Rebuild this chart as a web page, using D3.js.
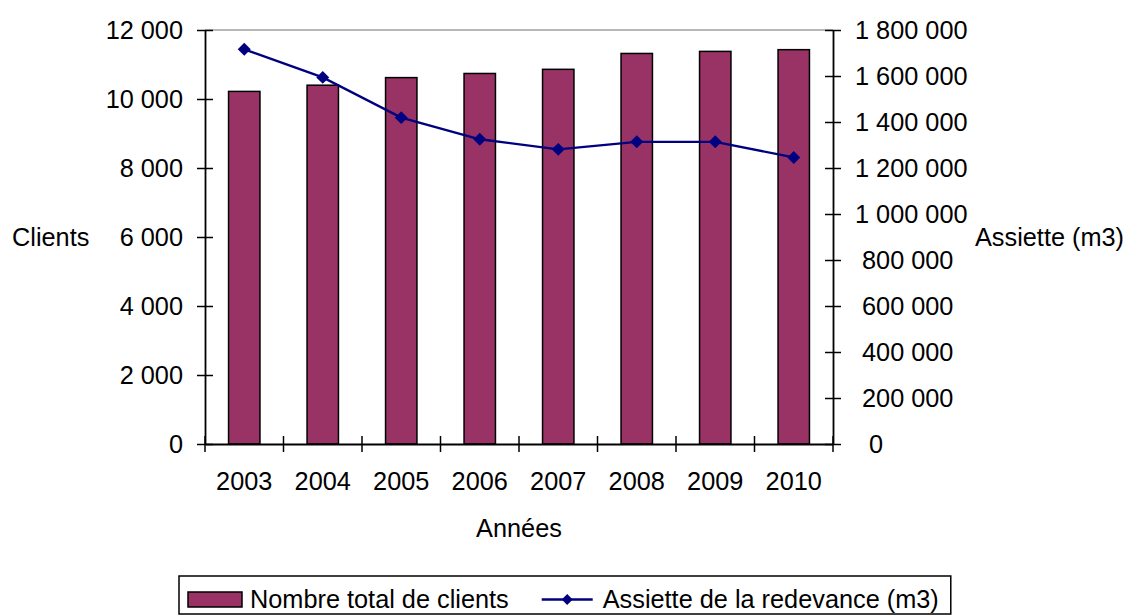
<!DOCTYPE html>
<html><head><meta charset="utf-8">
<script src="https://cdn.jsdelivr.net/npm/d3@7"></script>
<style>
html,body{margin:0;padding:0;background:#fff;}
svg{display:block;font-family:"Liberation Sans",Arial,sans-serif;}
</style></head>
<body><svg id="c" width="1135" height="616"></svg>
<script>
const years = ["2003","2004","2005","2006","2007","2008","2009","2010"];
const clients = [10220, 10400, 10620, 10740, 10860, 11320, 11380, 11430];
const assiette = [1716000, 1594000, 1419000, 1325000, 1281000, 1314000, 1314000, 1246000];
const leftTicks = [0, 2000, 4000, 6000, 8000, 10000, 12000];
const rightTicks = [0, 200000, 400000, 600000, 800000, 1000000, 1200000, 1400000, 1600000, 1800000];
const seriesNames = ["Nombre total de clients", "Assiette de la redevance (m3)"];
const axisTitles = {left: "Clients", right: "Assiette (m3)", bottom: "Années"};

const FS = 25.3;
const svg = d3.select("#c");
const m = {left: 205, right: 833, top: 30, bottom: 444};
const loc = d3.formatLocale({decimal: ",", thousands: " ", grouping: [3], currency: ["", ""]});
const fmt = loc.format(",d");

const x = d3.scaleBand().domain(years).range([m.left, m.right]).paddingInner(0).paddingOuter(0);
const yL = d3.scaleLinear().domain([0, 12000]).range([m.bottom, m.top]);
const yR = d3.scaleLinear().domain([0, 1800000]).range([m.bottom, m.top]);

// top plot border
svg.append("line").attr("x1", m.left).attr("x2", m.right).attr("y1", m.top).attr("y2", m.top)
  .attr("stroke", "#a0a0a0").attr("stroke-width", 1.5);

// bars
const bw = x.bandwidth() / 2.5;
svg.append("g").selectAll("rect").data(years).join("rect")
  .attr("x", (d) => x(d) + x.bandwidth() / 2 - bw / 2)
  .attr("y", (d, i) => yL(clients[i]))
  .attr("width", bw)
  .attr("height", (d, i) => yL(0) - yL(clients[i]))
  .attr("fill", "#993366").attr("stroke", "#000").attr("stroke-width", 1.5);

// left axis
const gL = svg.append("g").attr("transform", `translate(${m.left},0)`)
  .call(d3.axisLeft(yL).tickValues(leftTicks).tickFormat(fmt).tickSizeInner(8).tickSizeOuter(0).tickPadding(14));
gL.selectAll(".tick line").attr("x2", 8).attr("x1", -8);
// right axis
const gR = svg.append("g").attr("transform", `translate(${m.right},0)`)
  .call(d3.axisRight(yR).tickValues(rightTicks).tickFormat(fmt).tickSizeInner(8).tickSizeOuter(0));
gR.selectAll(".tick line").attr("x1", -8).attr("x2", 8);
gR.selectAll(".tick text").attr("x", (d) => d === 0 ? 36 : (d < 1000000 ? 29 : 22)).attr("text-anchor", "start");
// bottom axis
const gB = svg.append("g").attr("transform", `translate(0,${m.bottom})`)
  .call(d3.axisBottom(x).tickSize(0).tickSizeOuter(0).tickPadding(28));
const bounds = years.map((d) => x(d)).concat([m.right]);
gB.selectAll(".bt").data(bounds).join("line").attr("class", "bt")
  .attr("x1", (d) => d).attr("x2", (d) => d).attr("y1", -8).attr("y2", 8).attr("stroke", "#000").attr("stroke-width", 1.5);

[gL, gR, gB].forEach((g) => {
  g.selectAll(".domain").attr("stroke", "#000").attr("stroke-width", 1.8);
  g.selectAll(".tick line").attr("stroke", "#000").attr("stroke-width", 1.5);
  g.selectAll("text").attr("font-size", FS).attr("fill", "#000").attr("font-family", "Liberation Sans, Arial, sans-serif");
});
gB.selectAll(".tick text").attr("dy", "0.71em");

// line series
const line = d3.line().x((d, i) => x(years[i]) + x.bandwidth() / 2).y((d) => yR(d));
svg.append("path").datum(assiette).attr("d", line).attr("fill", "none")
  .attr("stroke", "#000080").attr("stroke-width", 2.3);
svg.append("g").selectAll("path").data(assiette).join("path")
  .attr("d", d3.symbol().type(d3.symbolSquare).size(84))
  .attr("transform", (d, i) => `translate(${x(years[i]) + x.bandwidth() / 2},${yR(d)}) rotate(45)`)
  .attr("fill", "#000080");

// axis titles
svg.append("text").attr("x", 12).attr("y", 237).attr("dy", "0.35em").attr("font-size", FS).text(axisTitles.left);
svg.append("text").attr("x", 975).attr("y", 237).attr("dy", "0.35em").attr("font-size", FS).text(axisTitles.right);
svg.append("text").attr("x", (m.left + m.right) / 2).attr("y", 537).attr("text-anchor", "middle").attr("font-size", FS).text(axisTitles.bottom);

// legend
const lg = svg.append("g");
const lgY = 599.5;
const t1 = lg.append("text").attr("x", 250).attr("y", 608).attr("font-size", FS).text(seriesNames[0]);
lg.append("rect").attr("x", 188).attr("y", 592).attr("width", 54).attr("height", 15)
  .attr("fill", "#993366").attr("stroke", "#000").attr("stroke-width", 1.5);
const w1 = t1.node().getComputedTextLength();
const lx = 250 + w1 + 33;
lg.append("line").attr("x1", lx).attr("x2", lx + 51).attr("y1", lgY).attr("y2", lgY).attr("stroke", "#000080").attr("stroke-width", 2.3);
lg.append("path").attr("d", d3.symbol().type(d3.symbolSquare).size(60)).attr("transform", `translate(${lx + 25.5},${lgY}) rotate(45)`).attr("fill", "#000080");
const t2 = lg.append("text").attr("x", lx + 61).attr("y", 608).attr("font-size", FS).text(seriesNames[1]);
const w2 = t2.node().getComputedTextLength();
const boxR = lx + 61 + w2 + 12;
lg.insert("rect", ":first-child").attr("x", 179).attr("y", 576).attr("width", boxR - 179).attr("height", 38)
  .attr("fill", "#fff").attr("stroke", "#000").attr("stroke-width", 1.5);
</script></body></html>
